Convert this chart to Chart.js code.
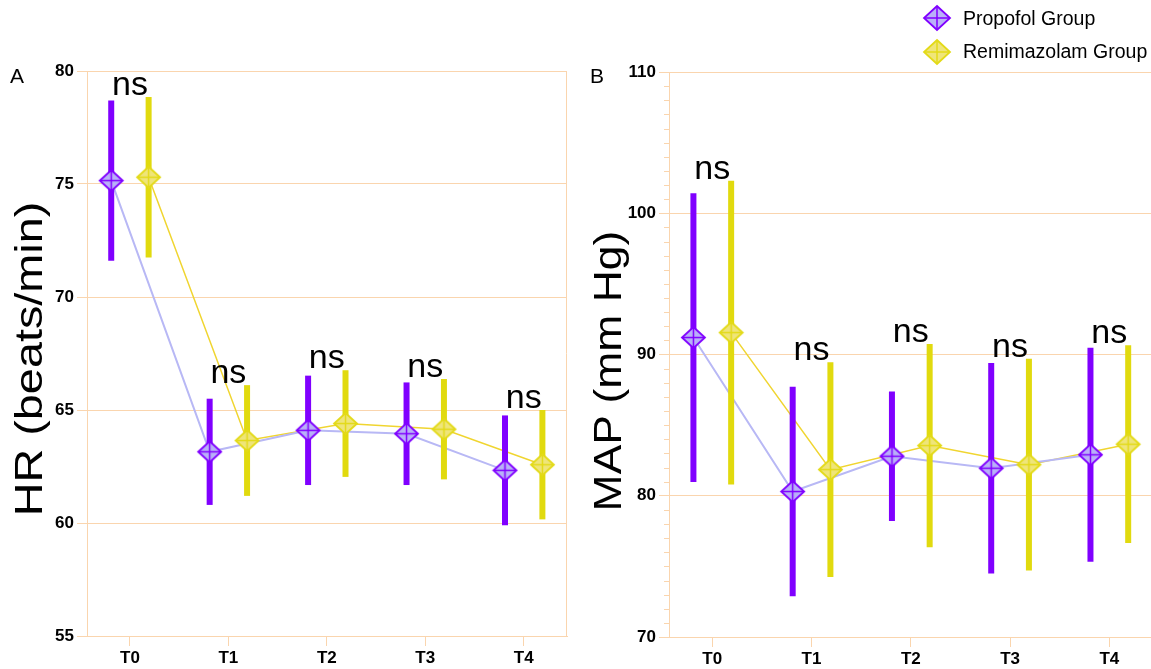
<!DOCTYPE html>
<html><head><meta charset="utf-8">
<script src="https://cdn.jsdelivr.net/npm/chart.js@4.4.0/dist/chart.umd.min.js"></script>
<style>
body{margin:0;background:#fff;width:1151px;height:669px;overflow:hidden;position:relative;font-family:Arial,"Liberation Sans",sans-serif;}
canvas.chart{position:absolute;top:0;}
#cA{left:0}
#cB{left:575px}
.panel{position:absolute;font-size:21px;line-height:1;color:#000;}
.ytitle{position:absolute;font-size:39px;line-height:1;white-space:nowrap;color:#000;}
.leg{position:absolute;font-size:19.5px;line-height:1;white-space:nowrap;color:#000;}
.legm{position:absolute;}
</style></head>
<body>
<canvas id="cA" class="chart" width="575" height="669"></canvas>
<canvas id="cB" class="chart" width="576" height="669"></canvas>
<div class="panel" style="left:10px;top:65px;">A</div>
<div class="panel" style="left:590px;top:65px;">B</div>
<div class="ytitle" id="tA" style="left:27.5px;top:358.5px;transform:translate(-50%,-50%) rotate(-90deg) scale(1.2,1);">HR (beats/min)</div>
<div class="ytitle" id="tB" style="left:607px;top:371px;transform:translate(-50%,-50%) rotate(-90deg) scale(1.14,1);">MAP (mm Hg)</div>
<div id="legend"></div>
<script>
// ---- data ----
const categories = ['T0','T1','T2','T3','T4'];
const hrPropofolMean = [75.15, 63.15, 64.10, 63.95, 62.33];
const hrPropofolSD   = [3.55, 2.35, 2.42, 2.27, 2.43];
const hrRemiMean     = [75.30, 63.65, 64.40, 64.15, 62.58];
const hrRemiSD       = [3.55, 2.45, 2.36, 2.22, 2.42];
const mapPropofolMean = [91.20, 80.30, 82.80, 81.95, 82.90];
const mapPropofolSD   = [10.22, 7.42, 4.58, 7.45, 7.57];
const mapRemiMean     = [91.55, 81.85, 83.55, 82.20, 83.65];
const mapRemiSD       = [10.75, 7.60, 7.20, 7.50, 7.00];
const hrSig  = ['ns','ns','ns','ns','ns'];
const mapSig = ['ns','ns','ns','ns','ns'];
const hrTicks  = [55, 60, 65, 70, 75, 80];
const mapTicks = [70, 80, 90, 100, 110];
const seriesNames = ['Propofol Group', 'Remimazolam Group'];

// ---- styles ----
const FONT = 'Arial, "Liberation Sans", sans-serif';
Chart.defaults.font.family = FONT;
const gridColor = '#FAD5AE';
const pStroke = '#8000FF', pFill = '#B9B1F8', pLine = '#B8B8F5', pBar = '#8000FF';
const rStroke = '#E3DA18', rFill = '#EFE57A', rLine = '#F0D530', rBar = '#E1DA0E';
const groupOffset = [-0.19, 0.19];

function diamond(fill, stroke, w, h){
  const c = document.createElement('canvas');
  c.width = w + 4; c.height = h + 4;
  const g = c.getContext('2d');
  const cx = c.width/2, cy = c.height/2;
  g.beginPath();
  g.moveTo(cx, cy-h/2); g.lineTo(cx+w/2, cy); g.lineTo(cx, cy+h/2); g.lineTo(cx-w/2, cy); g.closePath();
  g.fillStyle = fill; g.fill();
  g.lineWidth = 1.8; g.strokeStyle = stroke; g.stroke();
  g.beginPath();
  g.moveTo(cx, cy-h/2); g.lineTo(cx, cy+h/2);
  g.moveTo(cx-w/2, cy); g.lineTo(cx+w/2, cy);
  g.lineWidth = 1.5; g.stroke();
  return c;
}
const pMarker = diamond(pFill, pStroke, 23, 21);
const rMarker = diamond(rFill, rStroke, 23, 21);

function pts(means, off){ return means.map((m,i)=>({x:i+off, y:m})); }

const errorBarPlugin = {
  id:'errbars',
  beforeDatasetsDraw(chart){ chart.$errDone = false; },
  beforeDatasetDraw(chart, args){
    const ds = chart.data.datasets[args.index];
    if (ds.role !== 'marker' || chart.$errDone) return;
    chart.$errDone = true;
    const xs = chart.scales.x, ys = chart.scales.y, ctx = chart.ctx;
    ctx.save();
    ctx.lineWidth = 6; ctx.lineCap = 'butt';
    chart.data.datasets.forEach(d=>{
      if (d.role !== 'marker') return;
      ctx.strokeStyle = d.barColor;
      d.data.forEach((p,i)=>{
        const px = xs.getPixelForValue(p.x);
        ctx.beginPath();
        ctx.moveTo(px, ys.getPixelForValue(p.y - d.sd[i]));
        ctx.lineTo(px, ys.getPixelForValue(p.y + d.sd[i]));
        ctx.stroke();
      });
    });
    ctx.restore();
  }
};

const sigPlugin = {
  id:'sig',
  afterDatasetsDraw(chart){
    const sig = chart.options.plugins.sig.labels;
    const xs = chart.scales.x, ys = chart.scales.y, ctx = chart.ctx;
    const markers = chart.data.datasets.filter(d=>d.role==='marker');
    ctx.save();
    ctx.font = '34px ' + FONT; ctx.fillStyle = '#000';
    ctx.textAlign = 'center'; ctx.textBaseline = 'alphabetic';
    sig.forEach((s,i)=>{
      let top = -Infinity;
      markers.forEach(d=>{ top = Math.max(top, d.data[i].y + d.sd[i]); });
      ctx.fillText(s, xs.getPixelForValue(i), ys.getPixelForValue(top) - 2);
    });
    ctx.restore();
  }
};

const framePlugin = {
  id:'frame',
  afterDraw(chart){
    const o = chart.options.plugins.frame;
    const a = chart.chartArea, ctx = chart.ctx, ys = chart.scales.y;
    ctx.save();
    ctx.strokeStyle = gridColor; ctx.lineWidth = 1;
    if (o.rightBorder){
      ctx.beginPath(); ctx.moveTo(Math.round(a.right)-0.5, a.top); ctx.lineTo(Math.round(a.right)-0.5, a.bottom); ctx.stroke();
    }
    if (o.minorStep){
      for (let v = ys.min + o.minorStep; v < ys.max; v += o.minorStep){
        if (Math.abs(v % o.majorStep) < 1e-6) continue;
        const py = Math.round(ys.getPixelForValue(v)) + 0.5;
        ctx.beginPath(); ctx.moveTo(a.left - 5, py); ctx.lineTo(a.left, py); ctx.stroke();
      }
    }
    ctx.restore();
  }
};

function config(pm, psd, rm, rsd, yTicks, sig, pad, yWidth, xHeight, frameOpts){
  const tickFont = {family:FONT, size:17, weight:'bold'};
  return {
    type:'scatter',
    data:{datasets:[
      {role:'marker', label:seriesNames[0], data:pts(pm, groupOffset[0]), sd:psd, barColor:pBar,
       showLine:false, pointStyle:pMarker, pointRadius:11, order:0},
      {role:'marker', label:seriesNames[1], data:pts(rm, groupOffset[1]), sd:rsd, barColor:rBar,
       showLine:false, pointStyle:rMarker, pointRadius:11, order:0},
      {role:'line', data:pts(pm, groupOffset[0]), showLine:true, borderColor:pLine, borderWidth:2,
       pointRadius:0, pointHoverRadius:0, order:1},
      {role:'line', data:pts(rm, groupOffset[1]), showLine:true, borderColor:rLine, borderWidth:1.5,
       pointRadius:0, pointHoverRadius:0, order:1}
    ]},
    options:{
      responsive:false, animation:false, devicePixelRatio:1,
      layout:{padding:pad},
      events:[],
      plugins:{legend:{display:false}, tooltip:{enabled:false}, sig:{labels:sig}, frame:frameOpts},
      scales:{
        x:{type:'linear', min:-0.436, max:4.44,
           afterBuildTicks(s){ s.ticks = categories.map((c,i)=>({value:i})); },
           ticks:{callback:(v,i)=>categories[i], font:tickFont, color:'#000', padding:2, maxRotation:0, autoSkip:false},
           grid:{drawOnChartArea:false, drawTicks:true, tickLength:10, color:gridColor, tickColor:gridColor},
           border:{color:gridColor, width:1},
           afterFit(s){ s.height = xHeight; }},
        y:{min:yTicks[0], max:yTicks[yTicks.length-1],
           afterBuildTicks(s){ s.ticks = yTicks.map(v=>({value:v})); },
           ticks:{font:tickFont, color:'#000', padding:3},
           grid:{color:gridColor, tickColor:gridColor, tickLength:10, lineWidth:1},
           border:{color:gridColor, width:1},
           afterFit(s){ s.width = yWidth; }}
      }
    },
    plugins:[errorBarPlugin, sigPlugin, framePlugin]
  };
}

// create a chart, then widen its canvas so the plot area ends where wanted
function makeChart(id, targetRight, cfgFn){
  const cv = document.getElementById(id);
  let ch = new Chart(cv, cfgFn());
  const delta = Math.round(targetRight - ch.chartArea.right);
  if (delta !== 0){
    ch.destroy();
    cv.width = cv.width + delta;
    cv.height = 669;
    ch = new Chart(cv, cfgFn());
  }
  return ch;
}

makeChart('cA', 567, ()=>config(hrPropofolMean, hrPropofolSD, hrRemiMean, hrRemiSD, hrTicks, hrSig,
  {top:71, right:0, left:0, bottom:0}, 87, 33, {rightBorder:true}));
makeChart('cB', 1151 - 575 + 2, ()=>config(mapPropofolMean, mapPropofolSD, mapRemiMean, mapRemiSD, mapTicks, mapSig,
  {top:72, right:0, left:0, bottom:0}, 94, 32, {rightBorder:false, minorStep:1, majorStep:10}));

// ---- legend ----
const leg = document.getElementById('legend');
[[pFill,pStroke,18.3],[rFill,rStroke,51.7]].forEach((s,i)=>{
  const m = diamond(s[0], s[1], 26, 24);
  m.className = 'legm';
  m.style.left = (936.7 - m.width/2) + 'px';
  m.style.top = (s[2] - m.height/2) + 'px';
  leg.appendChild(m);
  const t = document.createElement('div');
  t.className = 'leg';
  t.textContent = seriesNames[i];
  t.style.left = '963px';
  t.style.top = (s[2] - 9.5) + 'px';
  leg.appendChild(t);
});
</script>
</body></html>
